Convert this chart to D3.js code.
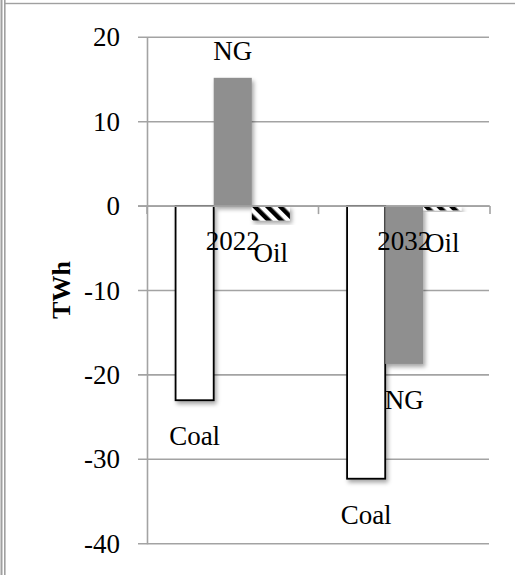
<!DOCTYPE html>
<html>
<head>
<meta charset="utf-8">
<script src="https://cdn.jsdelivr.net/npm/d3@7/dist/d3.min.js"></script>
<style>
  html, body { margin: 0; padding: 0; background: #fff; }
  svg { display: block; }
  text { font-family: "Liberation Serif", "Times New Roman", serif; fill: #000; }
</style>
</head>
<body>
<svg id="chart" width="515" height="575"></svg>
<script>
// Change in generation by fuel (TWh)
const categories = ["2022", "2032"];
const series = ["Coal", "NG", "Oil"];
const coalValues = [-23.0, -32.3];
const ngValues = [15.2, -18.7];
const oilValues = [-1.7, -0.5];
const yTicks = [20, 10, 0, -10, -20, -30, -40];

const valuesBySeries = { Coal: coalValues, NG: ngValues, Oil: oilValues };

const svg = d3.select("#chart");
const W = 515, H = 575;
const plot = { left: 147, right: 490, top: 37.3, bottom: 543.7 };
const gridColor = "#a3a3a3";
const fontSize = 27;

// frame lines
svg.append("rect").attr("x", 0.5).attr("y", 0).attr("width", 2).attr("height", H).attr("fill", "#a0a0a0");
svg.append("rect").attr("x", 4).attr("y", 0).attr("width", 1.6).attr("height", H).attr("fill", "#a0a0a0");
svg.append("rect").attr("x", 4).attr("y", 2.8).attr("width", W - 4).attr("height", 1.4).attr("fill", "#a0a0a0");

const defs = svg.append("defs");
const shadow = defs.append("filter").attr("id", "barShadow")
  .attr("x", "-30%").attr("y", "-30%").attr("width", "160%").attr("height", "160%");
shadow.append("feDropShadow").attr("dx", 2).attr("dy", 3).attr("stdDeviation", 2.2)
  .attr("flood-color", "#000").attr("flood-opacity", 0.35);

const stripes = defs.append("pattern").attr("id", "oilStripes")
  .attr("patternUnits", "userSpaceOnUse").attr("width", 9).attr("height", 9)
  .attr("patternTransform", "rotate(-45)");
stripes.append("rect").attr("width", 9).attr("height", 9).attr("fill", "#fff");
stripes.append("rect").attr("width", 4.5).attr("height", 9).attr("fill", "#000");

const y = d3.scaleLinear().domain([-40, 20]).range([plot.bottom, plot.top]);
const x0 = d3.scaleBand().domain(categories).range([plot.left, plot.right]).padding(0);
const bw = x0.bandwidth();
const x1 = d3.scaleBand().domain(series).range([bw / 6, bw * 5 / 6]).padding(0);

// gridlines
svg.append("g").selectAll("line").data(yTicks).join("line")
  .attr("x1", plot.left - 9).attr("x2", plot.right - 1)
  .attr("y1", d => y(d)).attr("y2", d => y(d))
  .attr("stroke", gridColor).attr("stroke-width", 1.6);

// y axis
const yAxis = svg.append("g").attr("transform", `translate(${plot.left},0)`)
  .call(d3.axisLeft(y).tickValues(yTicks).tickSize(0).tickPadding(27).tickFormat(d => String(d)));
yAxis.select(".domain").attr("stroke", gridColor).attr("stroke-width", 1.6);
yAxis.selectAll("text").attr("font-size", fontSize).attr("font-family", "Liberation Serif").attr("dy", "0.32em");

svg.append("text")
  .attr("transform", `translate(70,290) rotate(-90)`)
  .attr("text-anchor", "middle")
  .attr("font-size", 26).attr("font-weight", "bold")
  .text("TWh");

// bars
const groups = svg.append("g").selectAll("g").data(categories).join("g")
  .attr("transform", d => `translate(${x0(d)},0)`);

const barData = (c, i) => series.map(s => ({ cat: c, series: s, value: valuesBySeries[s][i] }));

groups.selectAll("rect").data((c, i) => barData(c, i)).join("rect")
  .attr("x", d => x1(d.series))
  .attr("width", x1.bandwidth())
  .attr("y", d => y(Math.max(0, d.value)))
  .attr("height", d => Math.abs(y(d.value) - y(0)))
  .attr("fill", d => d.series === "Coal" ? "#fff" : d.series === "NG" ? "#8f8f8f" : "url(#oilStripes)")
  .attr("stroke", d => d.series === "Coal" ? "#000" : "none")
  .attr("stroke-width", 1.8)
  .attr("filter", "url(#barShadow)");

// x axis at zero
const xAxisY = y(0);
svg.append("line").attr("x1", plot.left - 9).attr("x2", plot.right)
  .attr("y1", xAxisY).attr("y2", xAxisY).attr("stroke", gridColor).attr("stroke-width", 1.6);
svg.append("g").selectAll("line").data([...categories.map(c => x0(c)), plot.right]).join("line")
  .attr("x1", d => d).attr("x2", d => d)
  .attr("y1", xAxisY).attr("y2", xAxisY + 8)
  .attr("stroke", gridColor).attr("stroke-width", 1.6);

svg.append("g").selectAll("text").data(categories).join("text")
  .attr("x", d => x0(d) + bw / 2)
  .attr("y", xAxisY + 44)
  .attr("text-anchor", "middle")
  .attr("font-size", fontSize)
  .text(d => d);

// data labels with series names, outside the bar end
groups.selectAll("text.lbl").data((c, i) => barData(c, i)).join("text")
  .attr("class", "lbl")
  .attr("x", d => x1(d.series) + x1.bandwidth() / 2)
  .attr("y", d => d.value >= 0 ? y(d.value) - 18 : y(d.value) + (d.series === "Oil" ? 42 : 45))
  .attr("text-anchor", "middle")
  .attr("font-size", fontSize)
  .text(d => d.series);
</script>
</body>
</html>
